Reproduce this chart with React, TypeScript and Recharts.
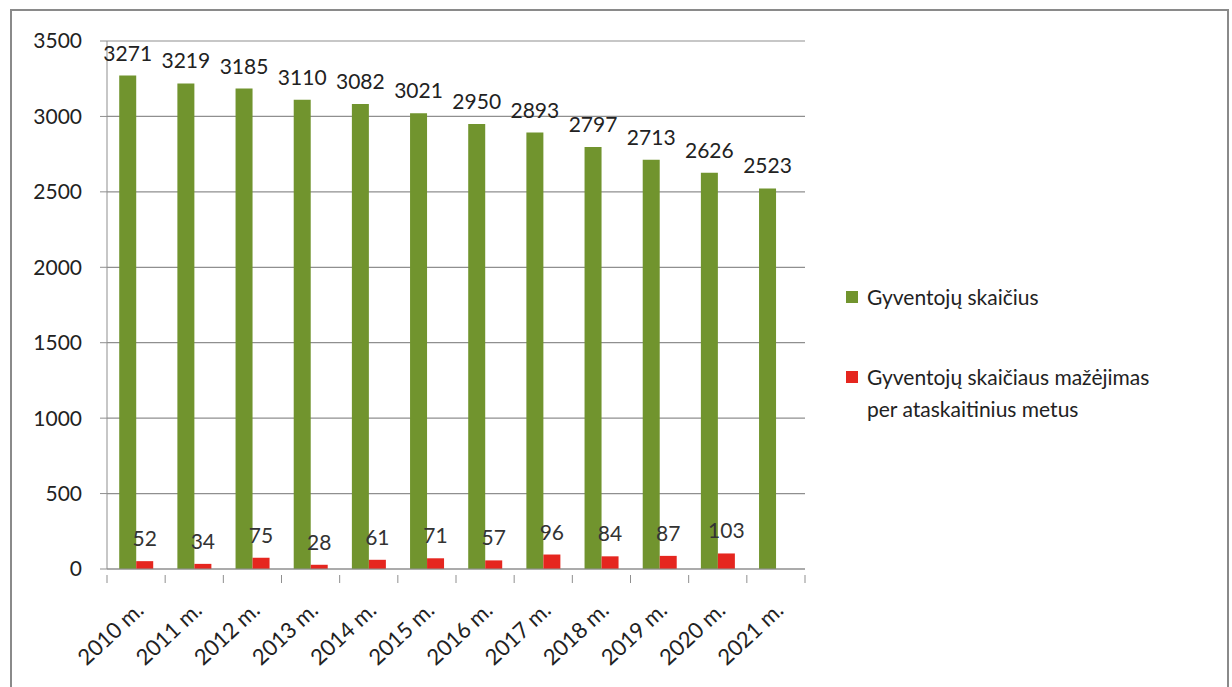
import { BarChart, Bar, XAxis, YAxis, CartesianGrid, LabelList, Legend } from "recharts";

const years = ["2010 m.", "2011 m.", "2012 m.", "2013 m.", "2014 m.", "2015 m.", "2016 m.", "2017 m.", "2018 m.", "2019 m.", "2020 m.", "2021 m."];
const population = [3271, 3219, 3185, 3110, 3082, 3021, 2950, 2893, 2797, 2713, 2626, 2523];
const decrease = [52, 34, 75, 28, 61, 71, 57, 96, 84, 87, 103, null];
const yTicks = [0, 500, 1000, 1500, 2000, 2500, 3000, 3500];
const seriesNames = ["Gyventojų skaičius", "Gyventojų skaičiaus mažėjimas\nper ataskaitinius metus"];

const data = years.map((year, i) => ({ year, population: population[i], decrease: decrease[i] }));

const FONT = "Lato, 'Open Sans', sans-serif";
const GREEN = "#71942e";
const RED = "#e5261f";
const GRID = "#8f8f8f";

const XTick = (props: any) => {
    const { x, y, payload, index, visibleTicksCount } = props;
    const off = payload && payload.offset ? payload.offset : 29;
    const axisY = y - 2;
    const tx = x + 9;
    const ty = axisY + 37;
    return (
        <g>
            <line x1={x - off} y1={axisY} x2={x - off} y2={axisY + 8} stroke={GRID} />
            {index === visibleTicksCount - 1 && (
                <line x1={x + off} y1={axisY} x2={x + off} y2={axisY + 8} stroke={GRID} />
            )}
            <text
                x={tx}
                y={ty}
                textAnchor="end"
                transform={`rotate(-43, ${tx}, ${ty})`}
                fill="#222"
                fontSize={22}
                fontFamily={FONT}
            >
                {payload.value}
            </text>
        </g>
    );
};

const LegendContent = (props: any) => {
    const items = [...(props.payload || [])].sort(
        (a: any, b: any) => seriesNames.indexOf(a.value) - seriesNames.indexOf(b.value)
    );
    return (
        <div style={{ fontFamily: FONT, fontSize: 21, color: "#222", lineHeight: "32px" }}>
            {items.map((item: any, i: number) => (
                <div key={i} style={{ display: "flex", alignItems: "flex-start", marginBottom: 48 }}>
                    <div
                        style={{
                            width: 12,
                            height: 12,
                            background: item.color,
                            marginTop: 10,
                            marginRight: 9,
                            flex: "none",
                        }}
                    />
                    <div style={{ whiteSpace: "pre-line" }}>{item.value}</div>
                </div>
            ))}
        </div>
    );
};

export default function App() {
    return (
        <div
            style={{
                position: "absolute",
                left: 0,
                top: 0,
                width: 1232,
                height: 687,
                overflow: "hidden",
                background: "#fff",
                fontFamily: FONT,
            }}
        >
            <div
                style={{
                    position: "absolute",
                    left: 10,
                    top: 9,
                    width: 1215,
                    height: 720,
                    border: "2px solid #8a8a8a",
                }}
            />
            <BarChart
                width={1232}
                height={687}
                data={data}
                margin={{ top: 41, right: 427, bottom: 18, left: 0 }}
                barCategoryGap="21%"
                barGap={0}
                style={{ position: "absolute", left: 0, top: 0 }}
            >
                <CartesianGrid vertical={false} stroke={GRID} strokeWidth={1.2} />
                <XAxis
                    dataKey="year"
                    height={100}
                    axisLine={{ stroke: GRID }}
                    tickLine={false}
                    tick={<XTick />}
                    interval={0}
                />
                <YAxis
                    width={107}
                    domain={[0, 3500]}
                    ticks={yTicks}
                    axisLine={{ stroke: GRID }}
                    tickLine={{ stroke: GRID }}
                    tickSize={7}
                    tickMargin={18}
                    tick={{ fontSize: 21, fill: "#222", fontFamily: FONT }}
                />
                <Legend
                    layout="vertical"
                    align="center"
                    verticalAlign="middle"
                    width={380}
                    content={<LegendContent />}
                    wrapperStyle={{ left: 846, top: 281 }}
                />
                <Bar dataKey="population" name={seriesNames[0]} fill={GREEN} isAnimationActive={false}>
                    <LabelList
                        dataKey="population"
                        position="top"
                        offset={15}
                        fill="#222"
                        fontSize={21}
                        fontFamily={FONT}
                    />
                </Bar>
                <Bar dataKey="decrease" name={seriesNames[1]} fill={RED} isAnimationActive={false}>
                    <LabelList
                        dataKey="decrease"
                        position="top"
                        offset={15}
                        fill="#333"
                        fontSize={21}
                        fontFamily={FONT}
                    />
                </Bar>
            </BarChart>
        </div>
    );
}
